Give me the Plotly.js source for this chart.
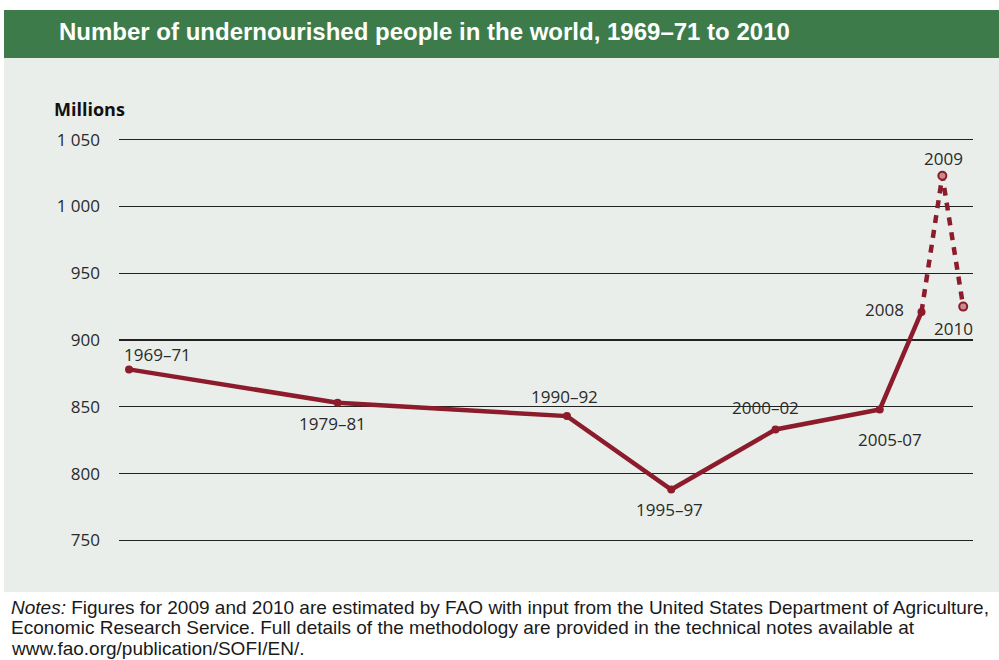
<!DOCTYPE html>
<html>
<head>
<meta charset="utf-8">
<script src="https://cdn.plot.ly/plotly-3.0.1.min.js"></script>
<style>html,body{margin:0;padding:0;background:#fff;}#chart{width:999px;height:660px;}</style>
</head>
<body>
<div id="chart"></div>
<script>
// Data
const periods = ["1969–71", "1979–81", "1990–92", "1995–97", "2000–02", "2005-07", "2008", "2009", "2010"];
const years = [1970, 1980, 1991, 1996, 2001, 2006, 2008, 2009, 2010];
const millions = [878, 853, 843, 788, 833, 848, 921, 1023, 925];
const estimated = [false, false, false, false, false, false, false, true, true];
const yTickVals = [750, 800, 850, 900, 950, 1000, 1050];
const yTickText = ["750", "800", "850", "900", "950", "1 000", "1 050"];
const noteLines = [
  "<i>Notes:</i> Figures for 2009 and 2010 are estimated by FAO with input from the United States Department of Agriculture,",
  "Economic Research Service. Full details of the methodology are provided in the technical notes available at",
  "www.fao.org/publication/SOFI/EN/."
];

// label placement (pixel shifts from the point)
const labelShift = {
  "1969–71": [-7, 15, "left"],
  "1979–81": [-5, -21, "center"],
  "1990–92": [-2, 20, "center"],
  "1995–97": [-2, -20, "center"],
  "2000–02": [-10, 22, "center"],
  "2005-07": [10, -30, "center"],
  "2008": [-37, 2, "center"],
  "2009": [1, 17, "center"],
  "2010": [-10, -22, "center"]
};

const RED = "#8c1b2b";
const W = 999, H = 660;
const M = {l: 119, r: 26, t: 133, b: 113};
const pw = W - M.l - M.r, ph = H - M.t - M.b;
const px = x => (x - M.l) / pw;
const py = y => (H - M.b - y) / ph;

const solidX = [], solidY = [], dotX = [], dotY = [];
years.forEach((yr, i) => {
  if (!estimated[i]) { solidX.push(yr); solidY.push(millions[i]); }
  if (estimated[i] || (i + 1 < years.length && estimated[i + 1])) { dotX.push(yr); dotY.push(millions[i]); }
});

const traces = [
  {x: dotX, y: dotY, type: "scatter", mode: "lines", line: {color: RED, width: 4.5, dash: "8px,7px"}, hoverinfo: "skip"},
  {x: years.filter((_, i) => estimated[i]), y: millions.filter((_, i) => estimated[i]), type: "scatter", mode: "markers",
   marker: {size: 8, color: "#c98a8c", line: {color: RED, width: 2}}, hoverinfo: "skip"},
  {x: solidX, y: solidY, type: "scatter", mode: "lines+markers", line: {color: RED, width: 4.5},
   marker: {size: 8, color: RED}, hoverinfo: "skip"}
];

const ann = [];
periods.forEach((p, i) => {
  const s = labelShift[p];
  ann.push({x: years[i], y: millions[i], xref: "x", yref: "y", text: p, showarrow: false,
    xanchor: s[2], yanchor: "middle", xshift: s[0], yshift: s[1],
    font: {family: "Open Sans, sans-serif", size: 17, color: "#2a2a2a"}});
});
ann.push({xref: "paper", yref: "paper", x: px(57), y: py(31), xanchor: "left", yanchor: "middle", showarrow: false,
  text: "<b>Number of undernourished people in the world, 1969–71 to 2010</b>",
  font: {family: "Liberation Sans, Arial, sans-serif", size: 24, color: "#ffffff"}});
ann.push({xref: "paper", yref: "paper", x: px(52), y: py(109), xanchor: "left", yanchor: "middle", showarrow: false,
  text: "<b>Millions</b>", font: {family: "Open Sans, sans-serif", size: 18, color: "#111"}});
const noteY = [607, 627.5, 648];
noteLines.forEach((t, i) => {
  ann.push({xref: "paper", yref: "paper", x: px(9), y: py(noteY[i]), xanchor: "left", yanchor: "middle", align: "left", showarrow: false,
    text: t, font: {family: "Liberation Sans, Arial, sans-serif", size: 19, color: "#1a1a1a"}});
});

const shapes = [
  {type: "rect", xref: "paper", yref: "paper", x0: px(4), x1: px(1005), y0: py(592), y1: py(58), fillcolor: "#e9eeea", line: {width: 0}, layer: "below"},
  {type: "rect", xref: "paper", yref: "paper", x0: px(4), x1: px(1005), y0: py(58), y1: py(10), fillcolor: "#3d7b4b", line: {width: 0}, layer: "below"}
];

const layout = {
  width: W, height: H,
  margin: M,
  paper_bgcolor: "#ffffff",
  plot_bgcolor: "rgba(0,0,0,0)",
  showlegend: false,
  xaxis: {range: [1969.52, 2010.47], visible: false, fixedrange: true},
  yaxis: {range: [745, 1055], tickvals: yTickVals, ticktext: yTickText, showgrid: true, gridcolor: "#222", gridwidth: 1.2,
    zeroline: false, showline: false, ticks: "", ticklabelstandoff: 18,
    tickfont: {family: "Open Sans, sans-serif", size: 17, color: "#2a2a2a"}, fixedrange: true},
  annotations: ann,
  shapes: shapes
};

Plotly.newPlot("chart", traces, layout, {staticPlot: true, displayModeBar: false});
</script>
</body>
</html>
